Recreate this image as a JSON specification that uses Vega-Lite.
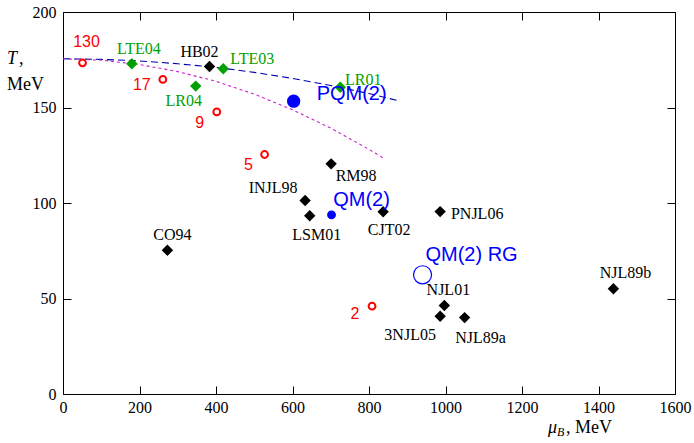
{
"$schema": "https://vega.github.io/schema/vega-lite/v6.json",
"width": 612, "height": 382,
"autosize": {"type": "none"},
"padding": {"left": 63, "top": 12, "right": 19, "bottom": 49},
"background": "white",
"config": {
  "view": {"stroke": null},
  "axis": {"domainColor": "black", "domainWidth": 1, "tickColor": "black", "tickSize": -8, "tickWidth": 1, "grid": false,
           "labelFont": "Liberation Serif", "labelFontSize": 16, "labelColor": "black", "labelFlush": false, "labelOverlap": false, "title": null, "format": "d"}
},
"datasets": {
  "pts": [
    {"name": "130", "group": "lattice", "mu": 51, "T": 173.4},
    {"name": "17", "group": "lattice", "mu": 261, "T": 164.7},
    {"name": "9", "group": "lattice", "mu": 402, "T": 147.7},
    {"name": "5", "group": "lattice", "mu": 527, "T": 125.4},
    {"name": "2", "group": "lattice", "mu": 808, "T": 46},
    {"name": "LTE04", "group": "green", "mu": 180, "T": 172.9},
    {"name": "LR04", "group": "green", "mu": 347, "T": 161.2},
    {"name": "LTE03", "group": "green", "mu": 419, "T": 170.3},
    {"name": "LR01", "group": "green", "mu": 725, "T": 160.6},
    {"name": "HB02", "group": "model", "mu": 383, "T": 171.5},
    {"name": "RM98", "group": "model", "mu": 701, "T": 120.5},
    {"name": "INJL98", "group": "model", "mu": 633, "T": 101.3},
    {"name": "LSM01", "group": "model", "mu": 645, "T": 93.3},
    {"name": "CJT02", "group": "model", "mu": 837, "T": 95.4},
    {"name": "PNJL06", "group": "model", "mu": 986, "T": 95.5},
    {"name": "CO94", "group": "model", "mu": 273, "T": 75.3},
    {"name": "NJL01", "group": "model", "mu": 997, "T": 46.3},
    {"name": "3NJL05", "group": "model", "mu": 986, "T": 40.7},
    {"name": "NJL89a", "group": "model", "mu": 1050, "T": 40},
    {"name": "NJL89b", "group": "model", "mu": 1439, "T": 55.1},
    {"name": "PQM(2)", "group": "pqm", "mu": 603, "T": 153.3},
    {"name": "QM(2)", "group": "qm", "mu": 702, "T": 93.8},
    {"name": "QM(2) RG", "group": "qmrg", "mu": 940, "T": 62.4}
  ],
  "curves": [
    {"curve": "PQM", "mu": 0, "T": 175.5}, {"curve": "PQM", "mu": 100, "T": 175.2}, {"curve": "PQM", "mu": 200, "T": 174.4},
    {"curve": "PQM", "mu": 300, "T": 172.9}, {"curve": "PQM", "mu": 400, "T": 171}, {"curve": "PQM", "mu": 500, "T": 168.4},
    {"curve": "PQM", "mu": 600, "T": 165.2}, {"curve": "PQM", "mu": 700, "T": 161.5}, {"curve": "PQM", "mu": 800, "T": 157.3},
    {"curve": "PQM", "mu": 872, "T": 153.8},
    {"curve": "QM", "mu": 0, "T": 175.5}, {"curve": "QM", "mu": 100, "T": 174.8}, {"curve": "QM", "mu": 200, "T": 172.5},
    {"curve": "QM", "mu": 300, "T": 168.8}, {"curve": "QM", "mu": 400, "T": 163.7}, {"curve": "QM", "mu": 500, "T": 157},
    {"curve": "QM", "mu": 600, "T": 148.8}, {"curve": "QM", "mu": 700, "T": 139.2}, {"curve": "QM", "mu": 800, "T": 128.1},
    {"curve": "QM", "mu": 837, "T": 123.6}
  ]
},
"encoding": {
  "x": {"field": "mu", "type": "quantitative", "scale": {"domain": [0, 1600], "nice": false, "zero": false}, "axis": null},
  "y": {"field": "T", "type": "quantitative", "scale": {"domain": [0, 200], "nice": false, "zero": false}, "axis": null}
},
"layer": [
  {"data": {"name": "curves"}, "transform": [{"filter": "datum.curve === 'PQM'"}],
   "mark": {"type": "line", "stroke": "#0000aa", "strokeWidth": 1.1, "strokeDash": [7, 4]},
   "encoding": {
     "x": {"field": "mu", "type": "quantitative", "axis": {"orient": "top", "labels": false, "values": [0,200,400,600,800,1000,1200,1400,1600]}},
     "y": {"field": "T", "type": "quantitative", "axis": {"orient": "right", "labels": false, "values": [0,50,100,150,200]}}
   }},
  {"data": {"name": "curves"}, "transform": [{"filter": "datum.curve === 'QM'"}],
   "mark": {"type": "line", "stroke": "#cc22cc", "strokeWidth": 1.1, "strokeDash": [3, 3]}},
  {"data": {"name": "pts"}, "transform": [{"filter": "datum.group === 'lattice'"}],
   "mark": {"type": "point", "shape": "circle", "filled": false, "stroke": "#ff0000", "strokeWidth": 2, "size": 46, "opacity": 1},
   "encoding": {
     "x": {"field": "mu", "type": "quantitative", "axis": {"orient": "bottom", "values": [0,200,400,600,800,1000,1200,1400,1600], "labelPadding": 13}},
     "y": {"field": "T", "type": "quantitative", "axis": {"orient": "left", "values": [0,50,100,150,200], "labelPadding": 15}}
   }},
  {"data": {"name": "pts"}, "transform": [{"filter": "datum.group === 'green'"}],
   "mark": {"type": "point", "shape": "diamond", "filled": true, "fill": "#00a000", "size": 130, "opacity": 1}},
  {"data": {"name": "pts"}, "transform": [{"filter": "datum.group === 'model'"}],
   "mark": {"type": "point", "shape": "diamond", "filled": true, "fill": "black", "size": 130, "opacity": 1}},
  {"data": {"name": "pts"}, "transform": [{"filter": "datum.group === 'pqm'"}],
   "mark": {"type": "point", "shape": "circle", "filled": true, "fill": "#0000ff", "size": 177, "opacity": 1}},
  {"data": {"name": "pts"}, "transform": [{"filter": "datum.group === 'qm'"}],
   "mark": {"type": "point", "shape": "circle", "filled": true, "fill": "#0000ff", "size": 79, "opacity": 1}},
  {"data": {"name": "pts"}, "transform": [{"filter": "datum.group === 'qmrg'"}],
   "mark": {"type": "point", "shape": "circle", "filled": false, "stroke": "#0000ff", "strokeWidth": 1.2, "size": 327, "opacity": 1}},

  {"data": {"name": "pts"}, "transform": [{"filter": "datum.name === '130'"}], "mark": {"type": "text", "font": "Liberation Sans", "fontSize": 16, "fill": "#ff0000", "dx": 4, "dy": -21}, "encoding": {"text": {"field": "name"}}},
  {"data": {"name": "pts"}, "transform": [{"filter": "datum.name === '17'"}], "mark": {"type": "text", "font": "Liberation Sans", "fontSize": 16, "fill": "#ff0000", "dx": -21, "dy": 6}, "encoding": {"text": {"field": "name"}}},
  {"data": {"name": "pts"}, "transform": [{"filter": "datum.name === '9'"}], "mark": {"type": "text", "font": "Liberation Sans", "fontSize": 16, "fill": "#ff0000", "dx": -17, "dy": 11}, "encoding": {"text": {"field": "name"}}},
  {"data": {"name": "pts"}, "transform": [{"filter": "datum.name === '5'"}], "mark": {"type": "text", "font": "Liberation Sans", "fontSize": 16, "fill": "#ff0000", "dx": -16, "dy": 11}, "encoding": {"text": {"field": "name"}}},
  {"data": {"name": "pts"}, "transform": [{"filter": "datum.name === '2'"}], "mark": {"type": "text", "font": "Liberation Sans", "fontSize": 16, "fill": "#ff0000", "dx": -17, "dy": 8}, "encoding": {"text": {"field": "name"}}},

  {"data": {"name": "pts"}, "transform": [{"filter": "datum.name === 'LTE04'"}], "mark": {"type": "text", "font": "Liberation Serif", "fontSize": 16, "fill": "#00a000", "dx": 7, "dy": -15}, "encoding": {"text": {"field": "name"}}},
  {"data": {"name": "pts"}, "transform": [{"filter": "datum.name === 'LR04'"}], "mark": {"type": "text", "font": "Liberation Serif", "fontSize": 16, "fill": "#00a000", "dx": -12, "dy": 15}, "encoding": {"text": {"field": "name"}}},
  {"data": {"name": "pts"}, "transform": [{"filter": "datum.name === 'LTE03'"}], "mark": {"type": "text", "font": "Liberation Serif", "fontSize": 16, "fill": "#00a000", "dx": 29, "dy": -10}, "encoding": {"text": {"field": "name"}}},
  {"data": {"name": "pts"}, "transform": [{"filter": "datum.name === 'LR01'"}], "mark": {"type": "text", "font": "Liberation Serif", "fontSize": 16, "fill": "#00a000", "dx": 23, "dy": -7}, "encoding": {"text": {"field": "name"}}},

  {"data": {"name": "pts"}, "transform": [{"filter": "datum.name === 'HB02'"}], "mark": {"type": "text", "font": "Liberation Serif", "fontSize": 16, "fill": "black", "dx": -10, "dy": -14}, "encoding": {"text": {"field": "name"}}},
  {"data": {"name": "pts"}, "transform": [{"filter": "datum.name === 'RM98'"}], "mark": {"type": "text", "font": "Liberation Serif", "fontSize": 16, "fill": "black", "dx": 25, "dy": 12}, "encoding": {"text": {"field": "name"}}},
  {"data": {"name": "pts"}, "transform": [{"filter": "datum.name === 'INJL98'"}], "mark": {"type": "text", "font": "Liberation Serif", "fontSize": 16, "fill": "black", "dx": -32, "dy": -13}, "encoding": {"text": {"field": "name"}}},
  {"data": {"name": "pts"}, "transform": [{"filter": "datum.name === 'LSM01'"}], "mark": {"type": "text", "font": "Liberation Serif", "fontSize": 16, "fill": "black", "dx": 7, "dy": 19}, "encoding": {"text": {"field": "name"}}},
  {"data": {"name": "pts"}, "transform": [{"filter": "datum.name === 'CJT02'"}], "mark": {"type": "text", "font": "Liberation Serif", "fontSize": 16, "fill": "black", "dx": 6, "dy": 18}, "encoding": {"text": {"field": "name"}}},
  {"data": {"name": "pts"}, "transform": [{"filter": "datum.name === 'PNJL06'"}], "mark": {"type": "text", "font": "Liberation Serif", "fontSize": 16, "fill": "black", "dx": 37, "dy": 2}, "encoding": {"text": {"field": "name"}}},
  {"data": {"name": "pts"}, "transform": [{"filter": "datum.name === 'CO94'"}], "mark": {"type": "text", "font": "Liberation Serif", "fontSize": 16, "fill": "black", "dx": 5, "dy": -15}, "encoding": {"text": {"field": "name"}}},
  {"data": {"name": "pts"}, "transform": [{"filter": "datum.name === 'NJL01'"}], "mark": {"type": "text", "font": "Liberation Serif", "fontSize": 16, "fill": "black", "dx": 4, "dy": -16}, "encoding": {"text": {"field": "name"}}},
  {"data": {"name": "pts"}, "transform": [{"filter": "datum.name === '3NJL05'"}], "mark": {"type": "text", "font": "Liberation Serif", "fontSize": 16, "fill": "black", "dx": -30, "dy": 19}, "encoding": {"text": {"field": "name"}}},
  {"data": {"name": "pts"}, "transform": [{"filter": "datum.name === 'NJL89a'"}], "mark": {"type": "text", "font": "Liberation Serif", "fontSize": 16, "fill": "black", "dx": 16, "dy": 20}, "encoding": {"text": {"field": "name"}}},
  {"data": {"name": "pts"}, "transform": [{"filter": "datum.name === 'NJL89b'"}], "mark": {"type": "text", "font": "Liberation Serif", "fontSize": 16, "fill": "black", "dx": 12, "dy": -16}, "encoding": {"text": {"field": "name"}}},

  {"data": {"name": "pts"}, "transform": [{"filter": "datum.name === 'PQM(2)'"}], "mark": {"type": "text", "font": "Liberation Sans", "fontSize": 20, "fill": "#0000ff", "dx": 58, "dy": -7}, "encoding": {"text": {"field": "name"}}},
  {"data": {"name": "pts"}, "transform": [{"filter": "datum.name === 'QM(2)'"}], "mark": {"type": "text", "font": "Liberation Sans", "fontSize": 20, "fill": "#0000ff", "dx": 30, "dy": -15}, "encoding": {"text": {"field": "name"}}},
  {"data": {"name": "pts"}, "transform": [{"filter": "datum.name === 'QM(2) RG'"}], "mark": {"type": "text", "font": "Liberation Sans", "fontSize": 20, "fill": "#0000ff", "dx": 49, "dy": -20}, "encoding": {"text": {"field": "name"}}},

  {"data": {"name": "pts"}, "transform": [{"filter": "datum.name === 'NJL89b'"}],
   "mark": {"type": "text", "text": "μ", "font": "Liberation Serif", "fontSize": 18, "fontStyle": "italic", "fill": "black", "align": "left", "baseline": "alphabetic", "dx": -127, "dy": 38.5},
   "encoding": {"x": {"datum": 1600, "type": "quantitative", "axis": null}, "y": {"datum": 0, "type": "quantitative", "axis": null}}},
  {"data": {"name": "pts"}, "transform": [{"filter": "datum.name === 'NJL89b'"}],
   "mark": {"type": "text", "text": "B", "font": "Liberation Serif", "fontSize": 12, "fontStyle": "italic", "fill": "black", "align": "left", "baseline": "alphabetic", "dx": -118, "dy": 42},
   "encoding": {"x": {"datum": 1600, "type": "quantitative", "axis": null}, "y": {"datum": 0, "type": "quantitative", "axis": null}}},
  {"data": {"name": "pts"}, "transform": [{"filter": "datum.name === 'NJL89b'"}],
   "mark": {"type": "text", "text": ", MeV", "font": "Liberation Serif", "fontSize": 18, "fill": "black", "align": "left", "baseline": "alphabetic", "dx": -109, "dy": 38.5},
   "encoding": {"x": {"datum": 1600, "type": "quantitative", "axis": null}, "y": {"datum": 0, "type": "quantitative", "axis": null}}},
  {"data": {"name": "pts"}, "transform": [{"filter": "datum.name === 'NJL89b'"}],
   "mark": {"type": "text", "text": "T", "font": "Liberation Serif", "fontSize": 18, "fontStyle": "italic", "fill": "black", "align": "left", "baseline": "alphabetic", "dx": -56, "dy": 52},
   "encoding": {"x": {"datum": 0, "type": "quantitative", "axis": null}, "y": {"datum": 200, "type": "quantitative", "axis": null}}},
  {"data": {"name": "pts"}, "transform": [{"filter": "datum.name === 'NJL89b'"}],
   "mark": {"type": "text", "text": ",", "font": "Liberation Serif", "fontSize": 18, "fill": "black", "align": "left", "baseline": "alphabetic", "dx": -44, "dy": 52},
   "encoding": {"x": {"datum": 0, "type": "quantitative", "axis": null}, "y": {"datum": 200, "type": "quantitative", "axis": null}}},
  {"data": {"name": "pts"}, "transform": [{"filter": "datum.name === 'NJL89b'"}],
   "mark": {"type": "text", "text": "MeV", "font": "Liberation Serif", "fontSize": 18, "fill": "black", "align": "left", "baseline": "alphabetic", "dx": -56, "dy": 77.5},
   "encoding": {"x": {"datum": 0, "type": "quantitative", "axis": null}, "y": {"datum": 200, "type": "quantitative", "axis": null}}}
],
"resolve": {"axis": {"x": "independent", "y": "independent"}}
}
